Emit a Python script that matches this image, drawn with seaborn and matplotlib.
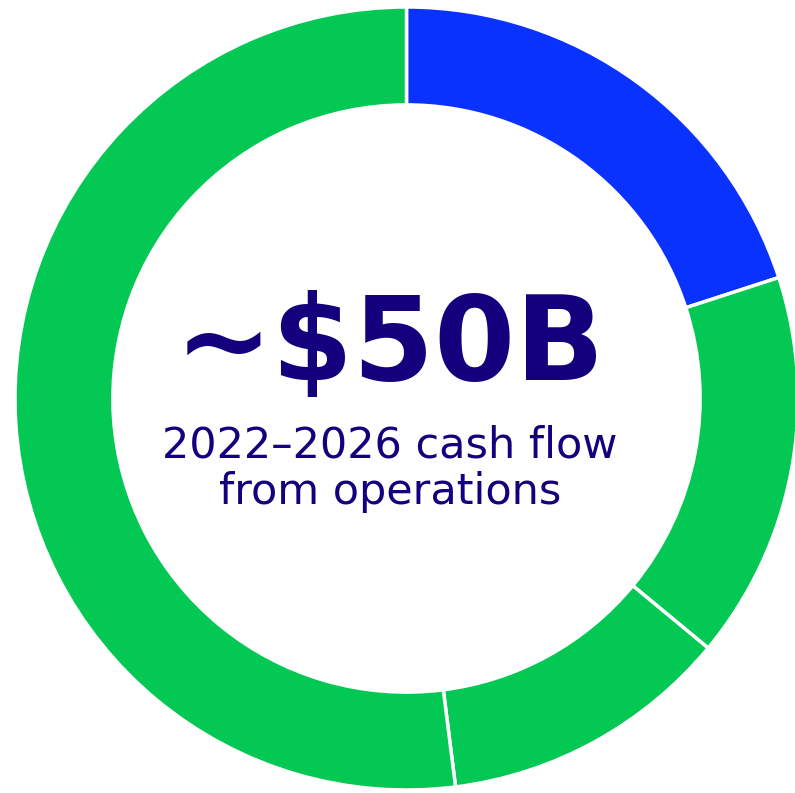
import matplotlib
matplotlib.use("Agg")
import matplotlib.pyplot as plt
import seaborn as sns

# cash flow split (share of ~$50B, %)
segments = ["Segment A", "Segment B", "Segment C", "Segment D"]
shares = [20, 16, 12, 52]
colors = ["#0A32FF", "#03C853", "#03C853", "#03C853"]

headline = "~$50B"
subline = ["2022\u20132026 cash flow", "from operations"]
text_color = "#14007D"

sns.set_theme(style="white")
plt.rcParams["font.family"] = ["DejaVu Sans"]

W, H = 795, 793
fig = plt.figure(figsize=(W / 100, H / 100), dpi=100)
fig.patch.set_facecolor("white")

# circle centre (406.5, 398.5) px, radius 391.5 px
cx, cy, r = 406.5, 398.5, 391.5
ax = fig.add_axes([(cx - r) / W, (H - cy - r) / H, 2 * r / W, 2 * r / H])
ax.pie(shares, colors=colors, startangle=90, counterclock=False,
       radius=1, wedgeprops=dict(width=0.25, edgecolor="white", linewidth=2.5))
ax.set_xlim(-1, 1)
ax.set_ylim(-1, 1)
ax.axis("off")

fig.text(390 / W, 1 - 380 / H, headline, ha="center", va="baseline",
         fontsize=84, fontweight="bold", color=text_color)
fig.text(390 / W, 1 - 458 / H, subline[0], ha="center", va="baseline",
         fontsize=31, color=text_color)
fig.text(390 / W, 1 - 504 / H, subline[1], ha="center", va="baseline",
         fontsize=31, color=text_color)

fig.savefig("out.png", dpi=100, facecolor="white")
